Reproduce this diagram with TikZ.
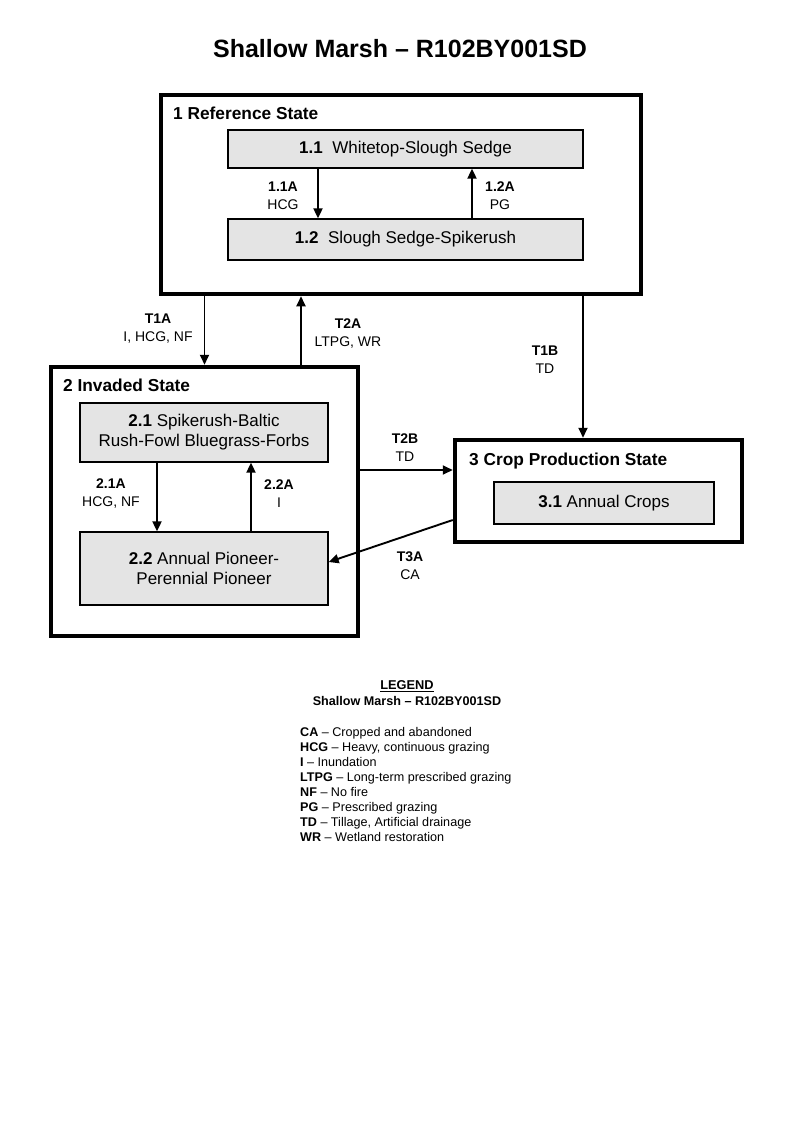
\documentclass[tikz,border=0pt]{standalone}
\usepackage{fontspec}
\setmainfont{Liberation Sans}
\usetikzlibrary{arrows.meta}
\definecolor{boxgray}{HTML}{E4E4E4}
\begin{document}
\begin{tikzpicture}[x=1pt,y=-1pt,
  statebox/.style={draw=black, line width=4.5pt, minimum width=#1, inner sep=0pt},
  phasebox/.style={draw=black, fill=boxgray, line width=1.3pt, inner sep=0pt, align=center,
    font=\fontsize{17}{20}\selectfont},
  statetitle/.style={anchor=base west, inner sep=0pt, font=\bfseries\fontsize{17.3}{20}\selectfont},
  lbl/.style={align=center, inner sep=0pt, font=\fontsize{14}{18}\selectfont},
  arr/.style={line width=1.9pt, -{Triangle[length=10pt,width=9pt]}},
  leg/.style={anchor=base west, inner sep=0pt, font=\fontsize{12.6}{15}\selectfont}
]
\useasboundingbox[fill=white] (0,0) rectangle (800,1143);

% title
\node[anchor=base, inner sep=0pt, font=\bfseries\fontsize{25}{28}\selectfont] (title) at (400,57) {Shallow Marsh – R102BY001SD};

% state boxes
\node[statebox=480pt, minimum height=199pt] (st1) at (401,194.5) {};
\node[statebox=307pt, minimum height=269pt] (st2) at (204.5,501.5) {};
\node[statebox=287pt, minimum height=102pt] (st3) at (598.5,491) {};

\node[statetitle] (st1t) at (173,119) {1 Reference State};
\node[statetitle] (st2t) at (63,391) {2 Invaded State};
\node[statetitle] (st3t) at (469,465) {3 Crop Production State};

% phase boxes
\node[phasebox, minimum width=355pt, minimum height=38pt] (s11) at (405.5,149) {\textbf{1.1}\ \ Whitetop-Slough Sedge};
\node[phasebox, minimum width=355pt, minimum height=41pt] (s12) at (405.5,239.5) {\textbf{1.2}\ \ Slough Sedge-Spikerush};
\node[phasebox, minimum width=248pt, minimum height=59pt] (s21) at (204,432.5) {\textbf{2.1} Spikerush-Baltic\\Rush-Fowl Bluegrass-Forbs};
\node[phasebox, minimum width=248pt, minimum height=73pt] (s22) at (204,568.5) {\textbf{2.2} Annual Pioneer-\\Perennial Pioneer};
\node[phasebox, minimum width=220pt, minimum height=42pt] (s31) at (604,503) {\textbf{3.1} Annual Crops};

% within-state arrows
\draw[arr] ([xshift=-87.5pt]s11.south) -- ([xshift=-87.5pt]s12.north);
\draw[arr] ([xshift=66.5pt]s12.north) -- ([xshift=66.5pt]s11.south);
\draw[arr] ([xshift=-47pt]s21.south) -- ([xshift=-47pt]s22.north);
\draw[arr] ([xshift=47pt]s22.north) -- ([xshift=47pt]s21.south);

% transitions
\draw[arr] (st1.south -| st2.north) -- (st2.north);
\coordinate (t2a) at ([xshift=96.5pt]st2.north);
\draw[arr] (t2a) -- (t2a |- st1.south);
\coordinate (t1b) at ([xshift=-15.5pt]st3.north);
\draw[arr] (t1b |- st1.south) -- (t1b);
\coordinate (t2b) at ([yshift=21pt]st3.west);
\draw[arr] (st2.east |- t2b) -- (t2b);
\draw[arr] ([yshift=-29pt]st3.west) -- ([yshift=6.5pt]s22.east);

% labels
\node[lbl] (l11a) at (283,196) {\textbf{1.1A}\\HCG};
\node[lbl] (l12a) at (500,196) {\textbf{1.2A}\\PG};
\node[lbl] (lt1a) at (158,329) {\textbf{T1A}\\I, HCG, NF};
\node[lbl] (lt2a) at (348,334) {\textbf{T2A}\\LTPG, WR};
\node[lbl] (lt1b) at (545,360) {\textbf{T1B}\\TD};
\node[lbl] (l21a) at (111,494) {\textbf{2.1A}\\HCG, NF};
\node[lbl] (l22a) at (279,494) {\textbf{2.2A}\\I};
\node[lbl] (lt2b) at (405,448) {\textbf{T2B}\\TD};
\node[lbl] (lt3a) at (410,566) {\textbf{T3A}\\CA};

% legend
\node[anchor=base, inner sep=0pt, font=\bfseries\fontsize{12.8}{15}\selectfont] (legt) at (407,689.5) {\underline{LEGEND}};
\node[anchor=base, inner sep=0pt, font=\bfseries\fontsize{12.6}{15}\selectfont] (legs) at (407,705.5) {Shallow Marsh – R102BY001SD};
\foreach \ab/\txt [count=\i from 0] in {CA/Cropped and abandoned, HCG/{Heavy, continuous grazing}, I/Inundation, LTPG/Long-term prescribed grazing, NF/No fire, PG/Prescribed grazing, TD/{Tillage, Artificial drainage}, WR/Wetland restoration}
  \node[leg] (leg\i) at (300,736.5+15*\i) {\textbf{\ab} – \txt};
\end{tikzpicture}
\end{document}
